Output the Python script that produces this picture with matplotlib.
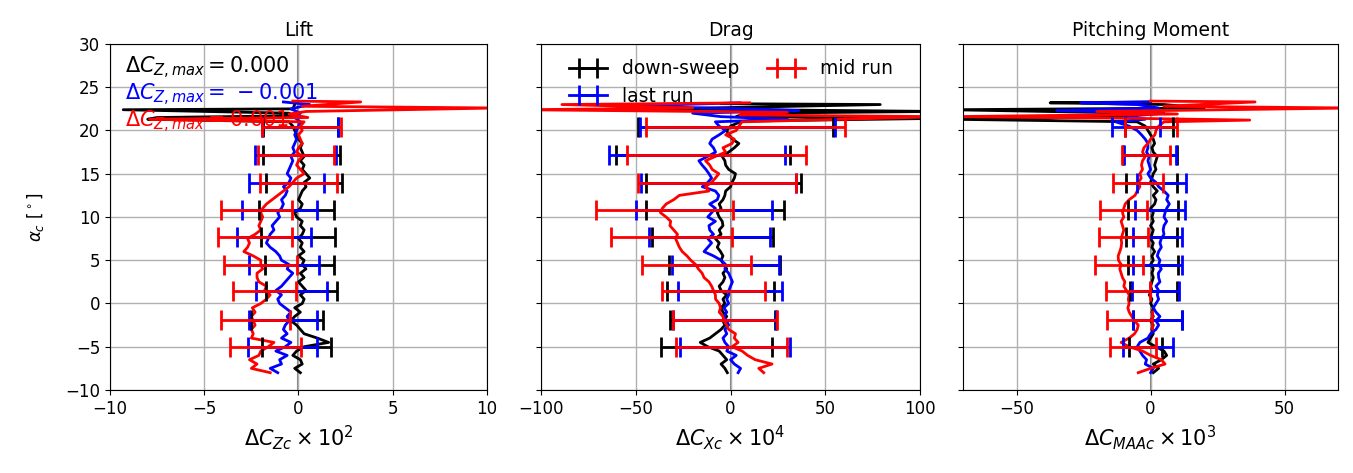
import matplotlib
matplotlib.use("Agg")
import matplotlib.pyplot as plt
import numpy as np

# angle grid of the traces (deg), values every 0.5 deg
alpha = np.arange(-8.0, 20.75, 0.5)

# Lift, dCZ x 1e2
lift_down = [0.1, -0.2, 0.2, 0.1, -0.3, -0.1, 0.3, 1.6, 1.0, 0.3, 0.1, -0.1, -0.4, -0.2, 0.1, -0.2,
             0.2, 0.3, 0.1, 0.4, 0.2, 0.0, 0.3, 0.1, 0.4, 0.2, 0.3, 0.0, 0.3, 0.1, 0.2, 0.0,
             0.2, 0.3, 0.1, 0.2, -0.1, -0.2, 0.1, 0.2, 0.0, 0.1, 0.2, 0.4, 0.3, 0.6, 0.4, 0.2,
             0.3, 0.1, 0.3, 0.2, 0.1, 0.2, 0.0, -0.1, -0.2, -0.3]
lift_last = [-1.1, -1.5, -0.9, -1.0, -0.6, -1.2, -0.7, -0.4, -0.9, -0.6, -0.8, -0.7, -0.5, -0.6, -0.4, -0.7,
             -1.0, -1.1, -0.9, -1.2, -0.9, -0.7, -0.5, -0.3, -0.6, -0.5, -0.9, -1.0, -1.2, -1.5, -1.7, -1.6,
             -1.5, -1.3, -1.4, -1.2, -1.0, -1.1, -0.9, -0.8, -0.9, -0.7, -0.6, -0.8, -0.5, -0.4, -0.6, -0.5,
             -0.4, -0.3, -0.4, -0.2, -0.3, -0.2, -0.1, -0.2, -0.1, 0.0]
lift_mid = [-1.5, -2.5, -2.2, -2.6, -2.1, -2.0, -1.6, -1.3, -2.5, -2.4, -2.5, -2.3, -2.4, -2.5, -2.3, -2.45,
            -2.0, -1.7, -1.5, -1.8, -1.7, -2.1, -2.2, -2.2, -1.9, -2.0, -2.0, -2.4, -2.9, -2.7, -2.6, -2.7,
            -2.3, -2.0, -2.1, -2.0, -1.9, -2.0, -1.9, -1.7, -1.4, -1.1, -0.8, -0.5, -0.3, -0.1, 0.3, 0.1,
            -0.1, 0.0, 0.2, -0.1, 0.0, 0.2, 0.1, 0.0, 0.2, 0.1]

# Drag, dCX x 1e4
drag_down = [-1.7, -3, -5, -2, -4, -6, -12, -16, -11, -8, -5, -3, -4, -2, -4, -5,
             -3, -4, -2, -5, -6, -4, -3, -4, -2, -3.5, -5, -4, -5.3, -7, -6, -8,
             -5, -6, -4, -4.4, -6, -7, -5, -6, -4, -3, -2.6, 0, 0.8, 2, 2.6, -1,
             -2.6, -3, -4.4, -1, 2, 4.4, 1, -1, -2, 0]
drag_last = [4, 5.3, 2, 0, 3, -2, -1, -3, -4, -2, -3, -1, -2, -3.5, -2, -3.5,
             -1, -2, -1, -0.9, 0, 1, 0, -1, -3, -2.6, -5, -9, -14, -12, -10, -12,
             -9, -11, -11.4, -8, -12, -10, -8, -11, -7, -6.2, -8, -14.9, -12, -10, -11.4, -13,
             -15, -16.7, -12, -7.9, -9, -11, -9.7, -6, -2.6, -6]
drag_mid = [17.5, 14.9, 21.9, 13, 9, 6.1, 0.8, 4, 2, 2.6, -1, -2, -3.5, -4, -6, -5.3,
            -6, -7.9, -8, -9, -10, -11.4, -14, -15, -17, -18.4, -21, -23, -25.5, -27, -28, -29,
            -28, -30, -32, -31.6, -34, -37, -36, -34, -30, -27, -11.4, -13.2, -10, -8, -6.2, -9.7,
            -11, -13.2, -8, -2.6, -4, 0.8, 2, -2.6, 3, 4.4]

# Pitching moment, dCMAA x 1e3
pitch_down = [1, 3, 1, 4, 6, 5, 2, -1, 0, 1, 0.5, 1, 0, 1, 0.5, 1,
              0, 0.5, -0.5, 0.5, 0, 0.5, 1, 0.5, 1, 0, 1, 0.5, 1.5, 0.5, 1, 0,
              0.5, 1, 0, 1, 0.5, 1, 0, 1.5, 2, 1, 2.5, 1, 0, 0.5, 1, 2,
              1.5, 2, 2.5, 1, 0.5, 1.5, 1, 0, -1, -2]
pitch_last = [0, 1, -2, -1.5, -3, -4, -5, -4, -1, 0, 2, 3, 2, 3.5, 2, 1,
              2, 3, 2.5, 3, 2, 3.5, 3, 2.9, 4, 3, 3.5, 2.5, 3, 4, 3.5, 4,
              5, 4.7, 5, 6, 5, 5.4, 6, 7, 6, 6.6, 5, 3, 2, 0, -1, 0,
              -0.5, -1, -0.5, -1.5, -1, -1, -2, -3.4, -5, -8]
pitch_mid = [-4.6, 0, 5.4, 4, 0, -3, -8, -11, -8, -6, -5, -4.6, -6, -7, -8, -8.5,
             -8, -8.3, -8, -9, -10, -9.6, -10.5, -11, -11.5, -11, -12, -12.1, -11.5, -11, -10.8, -11,
             -10.5, -10, -10.5, -11, -10, -10.5, -10, -9.5, -8, -5.8, -5, -4, -4.5, -3.5, -4, -3,
             -3.4, -3, -2, -3, -2.5, -1, 0, 1.6, 2, 3]

# stall end of each sweep (alpha, value)
lift_down_top = ([21.0, 21.3, 21.5, 21.7, 22.0, 22.4, 22.5, 23.0], [-0.5, -8.0, -7.5, -0.3, -0.5, -9.3, -0.3, -0.2])
lift_last_top = ([21.0, 21.5, 22.0, 22.5, 23.0, 23.3], [0.1, -0.2, 0.1, -0.4, 0.6, -0.8])
lift_mid_top = ([21.0, 21.3, 21.5, 21.9, 22.2, 22.6, 22.8, 23.3, 23.4], [0.3, -7.9, 0.5, -0.5, 0.4, 10.5, 0.2, 3.3, -0.3])
drag_down_top = ([21.0, 21.1, 21.4, 21.6, 22.0, 22.2, 22.5, 23.0, 23.1], [5, 10, 110, 3, 8, 110, -35, 79, -5])
drag_last_top = ([21.0, 21.3, 21.6, 22.0, 22.3, 22.5, 22.8, 23.2], [-8, 30, -5, -20, 36, 10, -58, 5])
drag_mid_top = ([21.0, 21.3, 21.6, 21.8, 22.1, 22.4, 22.6, 23.0, 23.2], [6, 60, 110, 5, 30, -110, -20, -89, 10])
pitch_down_top = ([21.0, 21.3, 21.6, 22.0, 22.4, 22.6, 23.0, 23.2, 23.3], [-5, -75, -10, -3, -75, 20, 5, -37.5, 0])
pitch_last_top = ([21.0, 21.3, 21.6, 22.0, 22.3, 22.6, 23.0, 23.2, 23.3], [-13, -2, -10, 5, -35, 3, -5, -26, 0])
pitch_mid_top = ([21.0, 21.2, 21.4, 21.6, 21.9, 22.2, 22.6, 22.8, 23.3, 23.4], [5, 37, -5, -75, 10, -20, 75, 5, 39, 0])

# error bar rows (alpha) and their left / right ends
bar_alpha = [-5.0, -1.9, 1.4, 4.45, 7.7, 10.8, 13.9, 17.2, 20.4]
lift_down_lo = [-1.93, -2.5, -1.7, -1.75, -2.0, -2.11, -1.7, -1.88, -1.9]
lift_down_hi = [1.72, 1.31, 2.04, 1.9, 1.94, 1.87, 2.29, 2.22, 2.1]
lift_last_lo = [-2.68, -2.6, -2.25, -2.6, -3.27, -3.0, -2.6, -2.33, -1.93]
lift_last_hi = [0.97, 1.0, 1.49, 1.1, 0.65, 0.97, 1.37, 1.99, 2.08]
lift_mid_lo = [-3.63, -4.12, -3.48, -3.93, -4.25, -4.12, -2.06, -2.17, -1.93]
lift_mid_hi = [0.12, -0.45, -0.15, -0.1, -0.36, -0.33, 2.03, 1.9, 2.26]
drag_down_lo = [-36.8, -31.9, -33.4, -32.5, -41.2, -44.4, -44.7, -60.5, -48.8]
drag_down_hi = [21.9, 23.7, 22.8, 26.3, 22.4, 28.0, 37.2, 31.6, 54.0]
drag_last_lo = [-26.7, -30.5, -27.6, -30.7, -43.0, -50.0, -47.0, -64.4, -47.7]
drag_last_hi = [31.6, 24.0, 27.2, 25.4, 21.0, 21.9, 34.7, 28.9, 55.3]
drag_mid_lo = [-29.0, -30.2, -36.0, -46.8, -63.2, -71.0, -48.8, -54.4, -44.4]
drag_mid_hi = [29.8, 24.5, 18.4, 10.9, 0.9, 1.4, 34.7, 39.8, 60.5]
pitch_down_lo = [-8.0, -6.5, -7.7, -8.3, -9.0, -8.3, -9.2, -10.4, -9.6]
pitch_down_hi = [4.1, 11.9, 9.7, 10.1, 9.7, 10.3, 9.7, 9.7, 8.5]
pitch_last_lo = [-10.2, -6.5, -7.1, -6.5, -6.5, -5.8, -5.2, -9.8, -14.5]
pitch_last_hi = [8.5, 11.9, 10.6, 11.9, 11.6, 12.8, 13.4, 9.3, 3.5]
pitch_mid_lo = [-15.1, -16.4, -16.8, -20.7, -19.3, -18.9, -13.9, -10.8, -9.6]
pitch_mid_hi = [2.0, 0.4, -0.2, -2.7, -0.9, -1.5, 4.7, 7.2, 9.7]

titles = ["Lift", "Drag", "Pitching Moment"]
xlabels = [r"$\Delta C_{Zc}\times10^2$", r"$\Delta C_{Xc}\times10^4$", r"$\Delta C_{MAAc}\times10^3$"]
xlims = [(-10, 10), (-100, 100), (-70, 70)]
xticks = [[-10, -5, 0, 5, 10], [-100, -50, 0, 50, 100], [-50, 0, 50]]
cz_max = [0.000, -0.001, 0.001]

panels = [
    [(lift_down, lift_down_top, lift_down_lo, lift_down_hi),
     (lift_last, lift_last_top, lift_last_lo, lift_last_hi),
     (lift_mid, lift_mid_top, lift_mid_lo, lift_mid_hi)],
    [(drag_down, drag_down_top, drag_down_lo, drag_down_hi),
     (drag_last, drag_last_top, drag_last_lo, drag_last_hi),
     (drag_mid, drag_mid_top, drag_mid_lo, drag_mid_hi)],
    [(pitch_down, pitch_down_top, pitch_down_lo, pitch_down_hi),
     (pitch_last, pitch_last_top, pitch_last_lo, pitch_last_hi),
     (pitch_mid, pitch_mid_top, pitch_mid_lo, pitch_mid_hi)],
]
colors = ["black", "blue", "red"]
labels = ["down-sweep", "last run", "mid run"]

fig = plt.figure(figsize=(13.53, 4.73), dpi=100)
boxes = [[0.0813, 0.1755, 0.2786, 0.7315],
         [0.3999, 0.1755, 0.2801, 0.7315],
         [0.7118, 0.1755, 0.2772, 0.7315]]
axs = [fig.add_axes(b) for b in boxes]

for k, ax in enumerate(axs):
    ax.grid(True, color="#b0b0b0", lw=1.0)
    ax.axvline(0, color="gray", lw=1.5, zorder=1)
    handles = []
    for (vals, top, lo, hi), c, lab in zip(panels[k], colors, labels):
        a = np.concatenate([alpha, top[0]])
        v = np.concatenate([vals, top[1]])
        ln, = ax.plot(v, a, color=c, lw=2, zorder=2)
        lo = np.array(lo)
        hi = np.array(hi)
        eb = ax.errorbar((lo + hi) / 2, bar_alpha, xerr=(hi - lo) / 2, fmt="none",
                         ecolor=c, elinewidth=2, capsize=7, capthick=2, zorder=3)
        handles.append((ln, eb))
    ax.set_xlim(*xlims[k])
    ax.set_xticks(xticks[k])
    ax.set_ylim(-10, 30)
    ax.set_yticks(np.arange(-10, 31, 5))
    ax.set_title(titles[k], fontsize=13.5)
    ax.set_xlabel(xlabels[k], fontsize=15)
    ax.tick_params(labelsize=12)
    if k > 0:
        ax.set_yticklabels([])
    if k == 1:
        ax.legend(handles, labels, ncol=2, loc="upper left", frameon=False,
                  fontsize=13.5, bbox_to_anchor=(0.03, 1.005), handlelength=2.0,
                  labelspacing=0.45, columnspacing=1.5)

axs[0].set_ylabel(r"$\alpha_c$ [$^\circ$]", fontsize=12, labelpad=14)
for i, (c, val) in enumerate(zip(colors, cz_max)):
    sign = r"\,-" if val < 0 else ""
    axs[0].text(0.04, 0.93 - i * 0.077, r"$\Delta C_{Z,max} = %s%.3f$" % (sign, abs(val)), color=c,
                fontsize=15, transform=axs[0].transAxes, va="center")

fig.savefig("out.png", dpi=100)
